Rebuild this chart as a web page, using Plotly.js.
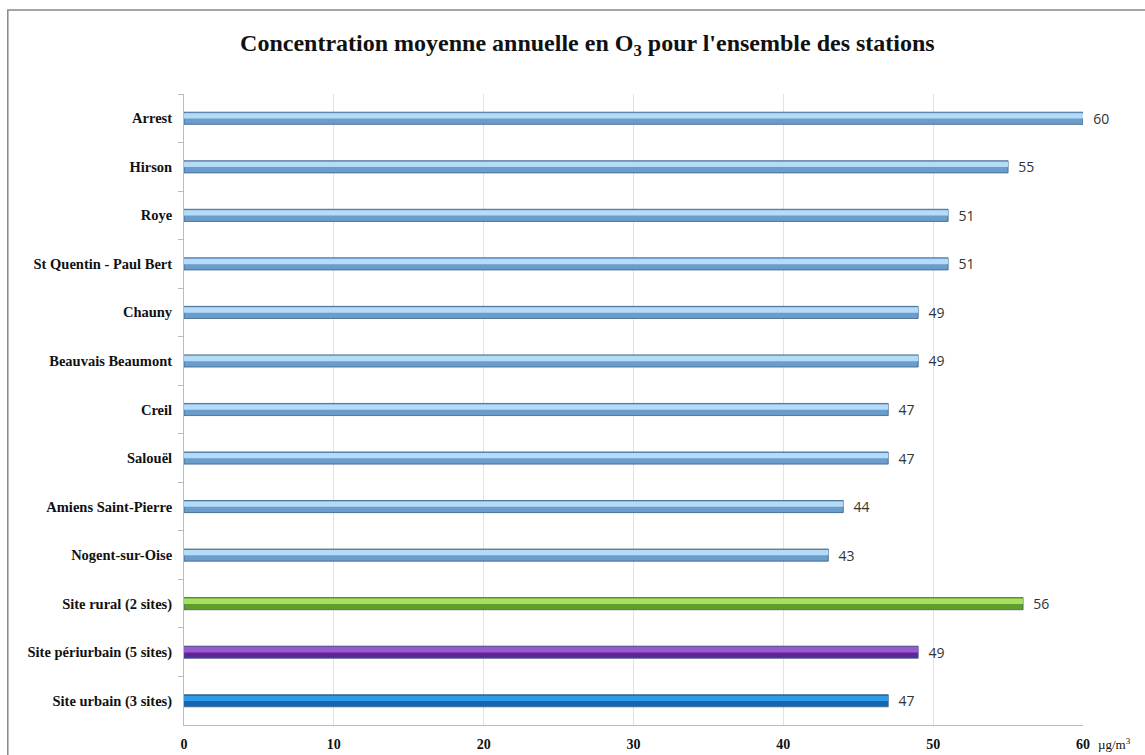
<!DOCTYPE html>
<html><head><meta charset="utf-8">
<script src="https://cdn.plot.ly/plotly-3.0.1.min.js"></script>
<style>body{margin:0;background:#fff}#c{width:1145px;height:755px}</style>
</head><body><div id="c"></div>
<script>
var stations = ["Arrest","Hirson","Roye","St Quentin - Paul Bert","Chauny","Beauvais Beaumont","Creil","Salouël","Amiens Saint-Pierre","Nogent-sur-Oise","Site rural (2 sites)","Site périurbain (5 sites)","Site urbain (3 sites)"];
var values = [60,55,51,51,49,49,47,47,44,43,56,49,47];
var baseColors = ["#6a9ccc","#6a9ccc","#6a9ccc","#6a9ccc","#6a9ccc","#6a9ccc","#6a9ccc","#6a9ccc","#6a9ccc","#6a9ccc","#5f9e2c","#5e2596","#1466b0"];
var lightColors = ["#b4dcf8","#b4dcf8","#b4dcf8","#b4dcf8","#b4dcf8","#b4dcf8","#b4dcf8","#b4dcf8","#b4dcf8","#b4dcf8","#a8e060","#9b58d2","#2f9cea"];
var xTicks = [0,10,20,30,40,50,60];

var base = {type:'bar',orientation:'h',y:stations,x:values,width:0.25,
  marker:{color:baseColors,line:{color:'#3a5f85',width:0.8}},
  text:values.map(String),texttemplate:'  %{text}',textposition:'outside',cliponaxis:false,constraintext:'none',
  textfont:{family:'Open Sans, Liberation Sans, sans-serif',size:14,color:'#333'},
  hoverinfo:'x+y'};
var hi = {type:'bar',orientation:'h',y:stations,x:values,width:0.11,offset:-0.105,
  marker:{color:lightColors,line:{width:0}},hoverinfo:'skip'};

var layout = {
  width:1145,height:755,showlegend:false,barmode:'overlay',
  paper_bgcolor:'#fff',plot_bgcolor:'#fff',
  margin:{l:184,r:62,t:94,b:30},
  title:{text:"Concentration moyenne annuelle en O<sub>3</sub> pour l'ensemble des stations",
    font:{family:'Liberation Serif, Times New Roman, serif',size:24,color:'#111',weight:'bold'},
    x:0.513,xanchor:'center',y:0.943,yanchor:'middle'},
  xaxis:{range:[0,60],tickvals:xTicks,ticktext:xTicks.map(String),
    showgrid:true,gridcolor:'#e2e2e2',gridwidth:1,zeroline:false,
    showline:true,linecolor:'#bbbbbb',linewidth:1,ticks:'',
    tickfont:{family:'Liberation Serif, serif',size:14,color:'#111',weight:'bold'},
    ticklabelstandoff:6,fixedrange:true},
  yaxis:{type:'category',autorange:'reversed',showline:true,linecolor:'#bbbbbb',linewidth:1,
    ticks:'outside',tickson:'boundaries',ticklen:5,tickcolor:'#bbbbbb',showgrid:false,
    tickfont:{family:'Liberation Serif, serif',size:14.5,color:'#111',weight:'bold'},
    ticklabelstandoff:8,fixedrange:true},
  shapes:[{type:'rect',xref:'paper',yref:'paper',x0:-0.196,x1:1.08,y0:-0.06,y1:1.133,
    line:{color:'#888',width:1.5},fillcolor:'rgba(0,0,0,0)'}],
  annotations:[{xref:'paper',yref:'paper',x:1.015,y:-0.03,xanchor:'left',yanchor:'middle',
    showarrow:false,text:'µg/m<sup>3</sup>',font:{family:'Liberation Serif, serif',size:13,color:'#111'}}]
};
Plotly.newPlot('c',[base,hi],layout,{displayModeBar:false,staticPlot:true});
</script></body></html>
